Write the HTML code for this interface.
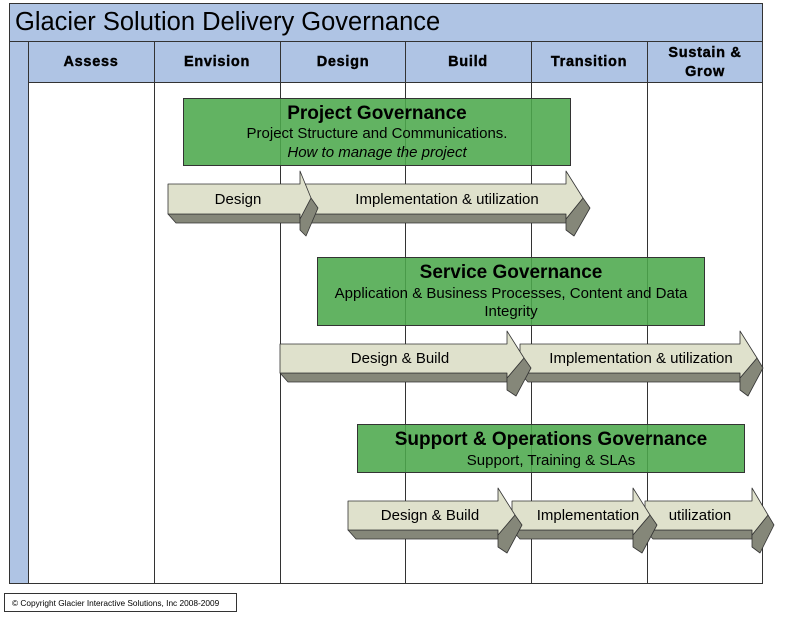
<!DOCTYPE html>
<html><head><meta charset="utf-8"><style>
html,body{margin:0;padding:0;background:#fff;}
svg{display:block;font-family:"Liberation Sans",Arial,sans-serif;}
</style></head><body>
<svg width="789" height="618" viewBox="0 0 789 618" xmlns="http://www.w3.org/2000/svg">
<rect x="9.5" y="3.5" width="753" height="580" fill="#fff" stroke="#333"/>
<rect x="9.5" y="3.5" width="753" height="38" fill="#afc4e4" stroke="#333"/>
<rect x="9.5" y="41.5" width="19" height="542" fill="#afc4e4" stroke="#333"/>
<rect x="28.5" y="41.5" width="734" height="41" fill="#afc4e4" stroke="#333"/>
<text x="15" y="30" font-size="25.5" fill="#000">Glacier Solution Delivery Governance</text>
<g stroke="#333" stroke-width="1">
<line x1="154.5" y1="42" x2="154.5" y2="584"/>
<line x1="280.5" y1="42" x2="280.5" y2="584"/>
<line x1="405.5" y1="42" x2="405.5" y2="584"/>
<line x1="531.5" y1="42" x2="531.5" y2="584"/>
<line x1="647.5" y1="42" x2="647.5" y2="584"/>
</g>
<g font-size="14.5" font-weight="bold" text-anchor="middle" letter-spacing="0.7" stroke="#000" stroke-width="0.4">
<text x="91" y="66">Assess</text>
<text x="217" y="66">Envision</text>
<text x="343" y="66">Design</text>
<text x="468" y="66">Build</text>
<text x="589" y="66">Transition</text>
<text x="705" y="57">Sustain &amp;</text>
<text x="705" y="76">Grow</text>
</g>

<g fill="#4ca84c" fill-opacity="0.88" stroke="#333">
<rect x="183.5" y="98.5" width="387" height="67"/>
<rect x="317.5" y="257.5" width="387" height="68"/>
<rect x="357.5" y="424.5" width="387" height="48"/>
</g>
<g text-anchor="middle" fill="#000">
<text x="377" y="119" font-size="19" font-weight="bold">Project Governance</text>
<text x="377" y="138" font-size="15">Project Structure and Communications.</text>
<text x="377" y="157" font-size="15" font-style="italic">How to manage the project</text>
<text x="511" y="278" font-size="19" font-weight="bold">Service Governance</text>
<text x="511" y="298" font-size="15">Application &amp; Business Processes, Content and Data</text>
<text x="511" y="316" font-size="15">Integrity</text>
<text x="551" y="445" font-size="19" font-weight="bold">Support &amp; Operations Governance</text>
<text x="551" y="465" font-size="15">Support, Training &amp; SLAs</text>
</g>

<g stroke="#333" stroke-width="0.8" stroke-linejoin="round">
<!-- row1 T=184 B=214 -->
<polygon fill="#858779" points="300,214 566,214 566,223 308,223"/>
<polygon fill="#858779" points="583,198 590,208 574,236 566,230 566,219"/>
<polygon fill="#dfe1cc" points="300,184 566,184 566,171 583,198 566,219 566,214 300,214"/>
<polygon fill="#858779" points="168,214 300,214 300,223 176,223"/>
<polygon fill="#858779" points="311,198 318,208 306,236 300,230 300,219"/>
<polygon fill="#dfe1cc" points="168,184 300,184 300,171 311,198 300,219 300,214 168,214"/>
<!-- row2 T=344 B=373 -->
<polygon fill="#858779" points="520,373 740,373 740,382 528,382"/>
<polygon fill="#858779" points="757,358 763,368 748,396 740,390 740,378"/>
<polygon fill="#dfe1cc" points="520,344 740,344 740,331 757,358 740,378 740,373 520,373"/>
<polygon fill="#858779" points="280,373 507,373 507,382 288,382"/>
<polygon fill="#858779" points="524,358 531,368 516,396 507,390 507,378"/>
<polygon fill="#dfe1cc" points="280,344 507,344 507,331 524,358 507,378 507,373 280,373"/>
<!-- row3 T=501 B=530 -->
<polygon fill="#858779" points="645,530 752,530 752,539 653,539"/>
<polygon fill="#858779" points="768,515 774,525 760,553 752,547 752,535"/>
<polygon fill="#dfe1cc" points="645,501 752,501 752,488 768,515 752,535 752,530 645,530"/>
<polygon fill="#858779" points="512,530 633,530 633,539 520,539"/>
<polygon fill="#858779" points="650,515 657,525 642,553 633,547 633,535"/>
<polygon fill="#dfe1cc" points="512,501 633,501 633,488 650,515 633,535 633,530 512,530"/>
<polygon fill="#858779" points="348,530 498,530 498,539 356,539"/>
<polygon fill="#858779" points="515,515 522,525 507,553 498,547 498,535"/>
<polygon fill="#dfe1cc" points="348,501 498,501 498,488 515,515 498,535 498,530 348,530"/>
</g>
<g font-size="15" text-anchor="middle" fill="#000">
<text x="238" y="204">Design</text>
<text x="447" y="204">Implementation &amp; utilization</text>
<text x="400" y="363">Design &amp; Build</text>
<text x="641" y="363">Implementation &amp; utilization</text>
<text x="430" y="520">Design &amp; Build</text>
<text x="588" y="520">Implementation</text>
<text x="700" y="520">utilization</text>
</g>

<rect x="4.5" y="593.5" width="232" height="18" fill="#fff" stroke="#333"/>
<text x="12" y="606" font-size="8.3" fill="#000">© Copyright Glacier Interactive Solutions, Inc 2008-2009</text>
</svg>
</body></html>
